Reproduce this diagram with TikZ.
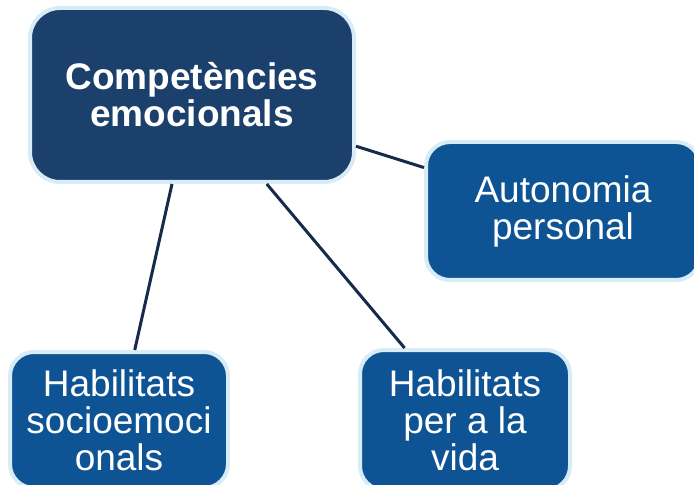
\documentclass[tikz,border=0pt]{standalone}
\usepackage{fontspec}
\setmainfont{Liberation Sans}
\usepackage{tikz}
\definecolor{navy}{RGB}{27,64,108}
\definecolor{midblue}{RGB}{14,83,148}
\definecolor{rim}{RGB}{216,236,248}
\definecolor{wire}{RGB}{22,42,76}
\tikzset{
  boxbase/.style={draw=rim, line width=2pt, text=white, align=center,
    font=\fontsize{18.5}{18.5}\selectfont, inner sep=0pt},
  mainbox/.style={boxbase, fill=navy, rounded corners=15pt, font=\bfseries\fontsize{18.5}{18.5}\selectfont},
  subbox/.style={boxbase, fill=midblue, rounded corners=12pt},
  link/.style={draw=wire, line width=1.5pt}
}
\begin{document}
\begin{tikzpicture}[x=0.5pt, y=-0.5pt]
				\useasboundingbox (0,0) rectangle (694,485);
				\clip (0,0) rectangle (694,485);
				% nodes
				\node[mainbox, minimum width=162pt, minimum height=87pt] (comp) at (192,95) {Competències\\emocionals};
				\node[subbox, minimum width=137pt, minimum height=69pt] (auto) at (563,211) {Autonomia\\personal};
				\node[subbox, minimum width=109pt, minimum height=68pt] (socio) at (119,420) {Habilitats\\socioemoci\\onals};
				\node[subbox, minimum width=105pt, minimum height=70pt] (vida) at (465,420) {Habilitats\\per a la\\vida};
				% connectors
				\draw[link] (comp) -- (auto);
				\draw[link] (comp) -- (socio);
				\draw[link] (comp) -- (vida);
			\end{tikzpicture}
\end{document}
